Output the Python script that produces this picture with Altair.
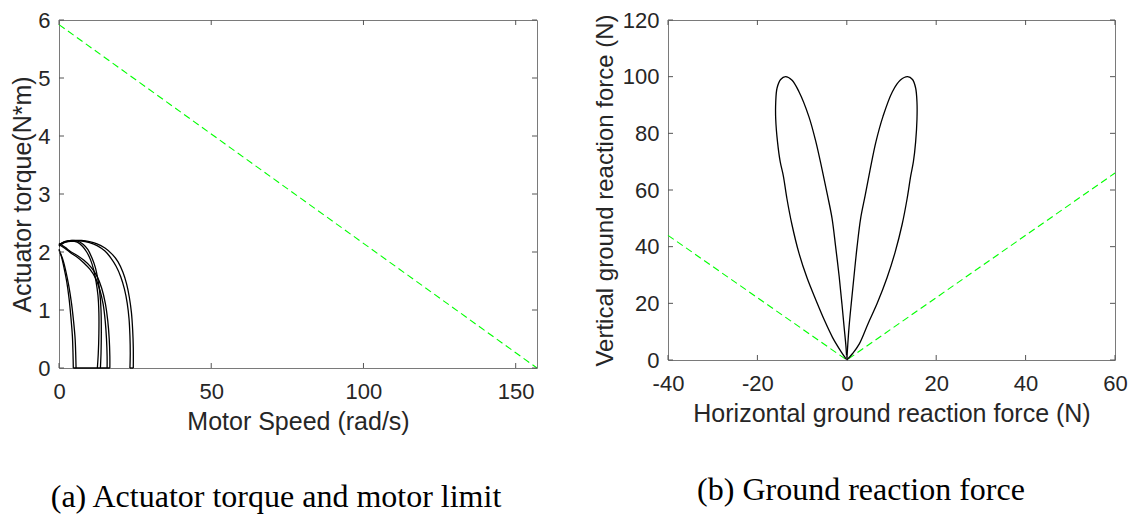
import altair as alt
import pandas as pd

# ---------------- Panel (a): actuator torque vs motor speed ----------------
limit_speed = [0, 157]
limit_torque = [5.92, 0]

a1_speed = [0, 1, 3, 5, 7.4, 10, 12.5, 15.1, 17.5, 19.4, 21, 22.2, 23.1, 23.8, 24.2, 24.4, 24.4]
a1_torque = [2.12, 2.16, 2.19, 2.2, 2.2, 2.18, 2.14, 2.07, 1.96, 1.83, 1.65, 1.45, 1.22, 0.95, 0.65, 0.35, 0]
a2_speed = [0, 1, 3, 5, 7.4, 10, 12.5, 15, 17, 18.8, 20.3, 21.5, 22.4, 23, 23.3, 23.4, 23.3]
a2_torque = [2.1, 2.15, 2.18, 2.19, 2.19, 2.16, 2.11, 2.02, 1.9, 1.75, 1.57, 1.36, 1.12, 0.85, 0.55, 0.25, 0]
b1_speed = [0, 2, 4, 6, 8, 9.5, 10.8, 11.9, 12.8, 13.4, 13.8, 13.9, 13.8, 13.6]
b1_torque = [2.12, 2.18, 2.2, 2.19, 2.13, 2.04, 1.9, 1.74, 1.52, 1.3, 1.0, 0.6, 0.25, 0]
b2_speed = [0, 2, 4, 6, 7.7, 9.1, 10.4, 11.4, 12.2, 12.8, 13.1, 13.1, 12.9, 12.6]
b2_torque = [2.1, 2.17, 2.19, 2.17, 2.1, 2.0, 1.86, 1.69, 1.48, 1.25, 0.95, 0.6, 0.25, 0]
c1_speed = [0, 2, 4, 6, 8.1, 10.5, 12.5, 14, 15.2, 16, 16.5, 16.7, 16.7]
c1_torque = [2.15, 2.08, 2.0, 1.94, 1.86, 1.74, 1.58, 1.38, 1.12, 0.82, 0.5, 0.2, 0]
c2_speed = [0, 2, 4, 6, 8, 10.2, 12, 13.4, 14.5, 15.2, 15.6, 15.8, 15.8]
c2_torque = [2.13, 2.06, 1.98, 1.91, 1.82, 1.7, 1.55, 1.35, 1.1, 0.8, 0.5, 0.2, 0]
d1_speed = [0, 0.8, 1.6, 2.5, 3.3, 3.9, 4.4, 4.6, 4.7]
d1_torque = [2.05, 1.92, 1.74, 1.5, 1.2, 0.88, 0.55, 0.25, 0]
d2_speed = [0, 1.2, 2.2, 3.2, 4.1, 4.8, 5.3, 5.5, 5.6]
d2_torque = [2.03, 1.88, 1.68, 1.42, 1.12, 0.8, 0.5, 0.22, 0]
base1_speed = [4.7, 16.7]
base1_torque = [0, 0]
base2_speed = [23.3, 24.4]
base2_torque = [0, 0]

speed_ticks = [0, 50, 100, 150]
torque_ticks = [0, 1, 2, 3, 4, 5, 6]

# ---------------- Panel (b): ground reaction force ----------------
cone_fx = [-40, 0, 60]
cone_fz = [44, 0, 66]

left_lobe_fx = [0, -0.2, -0.6, -1.1, -1.7, -2.5, -3.3, -4.3, -5.5, -6.9, -8.5, -10.7, -12.3, -13.7,
                -14.8, -15.6, -15.9, -15.9, -15.5, -14.9, -14.2, -13.4, -12.3, -10.7, -8.9, -6.9,
                -5.0, -3.2, -1.5, 0]
left_lobe_fz = [0, 5, 11.6, 20, 29.4, 40, 50, 58, 67, 76.9, 86, 94.7, 98.8, 100,
                99, 96, 91, 85, 77, 70, 65, 57, 48, 37.7, 29, 21.1, 14, 8, 3.5, 0]
right_lobe_fx = [0, 0.2, 0.5, 1.0, 1.6, 2.3, 3.1, 4.1, 5.2, 6.5, 8.1, 10.2, 12.0, 13.6,
                 14.7, 15.4, 15.7, 15.7, 15.4, 14.9, 14.3, 13.5, 12.4, 10.8, 9.0, 6.8,
                 4.8, 2.8, 1.3, 0]
right_lobe_fz = [0, 5, 11.6, 20, 29.4, 40, 50, 58, 67, 76.9, 86, 94.7, 98.8, 100,
                 99, 96, 91, 85, 77, 70, 65, 57, 48, 38, 29, 20, 13, 5.7, 2.3, 0]

fx_ticks = [-40, -20, 0, 20, 40, 60]
fz_ticks = [0, 20, 40, 60, 80, 100, 120]

caption_a = "(a) Actuator torque and motor limit"
caption_b = "(b) Ground reaction force"

# ---------------- build tables ----------------
def series_frame(pairs, xname, yname):
    rows = []
    for name, xs, ys in pairs:
        for i, (xv, yv) in enumerate(zip(xs, ys)):
            rows.append({"s": name, "i": i, xname: xv, yname: yv})
    return pd.DataFrame(rows)

torque_df = series_frame([
    ("a1", a1_speed, a1_torque), ("a2", a2_speed, a2_torque),
    ("b1", b1_speed, b1_torque), ("b2", b2_speed, b2_torque),
    ("c1", c1_speed, c1_torque), ("c2", c2_speed, c2_torque),
    ("d1", d1_speed, d1_torque), ("d2", d2_speed, d2_torque),
    ("e1", base1_speed, base1_torque), ("e2", base2_speed, base2_torque),
], "speed", "torque")
limit_df = pd.DataFrame({"speed": limit_speed, "torque": limit_torque})

grf_df = series_frame([
    ("L", left_lobe_fx, left_lobe_fz), ("R", right_lobe_fx, right_lobe_fz),
], "fx", "fz")
cone_df = pd.DataFrame({"fx": cone_fx, "fz": cone_fz})

TXT = "#262626"
AX = "#7a7a7a"
TICKC = "#555555"
SANS = "Liberation Sans"
SERIF = "Liberation Serif"
GREEN = "#00ff00"
TICK = 5
LBL = "'' + datum.value"


def tick_frames(xdom, ydom, xticks, yticks, W, H):
    """Inward (MATLAB-style) tick segments, expressed in data units."""
    dy = (ydom[1] - ydom[0]) * TICK / H
    dx = (xdom[1] - xdom[0]) * TICK / W
    xt = pd.DataFrame({
        "x": xticks * 2,
        "y1": [ydom[0]] * len(xticks) + [ydom[1]] * len(xticks),
        "y2": [ydom[0] + dy] * len(xticks) + [ydom[1] - dy] * len(xticks),
    })
    yt = pd.DataFrame({
        "y": yticks * 2,
        "x1": [xdom[0]] * len(yticks) + [xdom[1]] * len(yticks),
        "x2": [xdom[0] + dx] * len(yticks) + [xdom[1] - dx] * len(yticks),
    })
    return xt, yt


def make_panel(lines_df, dash_df, xf, yf, xdom, ydom, xticks, yticks,
               xtitle, ytitle, ytitle_size, ytitle_pad, W, H, caption, cap_x, cap_y):
    xs = alt.Scale(domain=xdom, nice=False, zero=False)
    ys = alt.Scale(domain=ydom, nice=False, zero=False)
    xaxis = alt.Axis(values=xticks, title=xtitle, ticks=False, domain=False, grid=False,
                     labelPadding=13, titlePadding=7, labelExpr=LBL, titleFontSize=25,
                     labelFlush=False)
    yaxis = alt.Axis(values=yticks, title=ytitle, ticks=False, domain=False, grid=False,
                     labelPadding=9, titlePadding=ytitle_pad, labelExpr=LBL,
                     titleFontSize=ytitle_size, labelFlush=False)
    curves = alt.Chart(lines_df).mark_line(
        color="black", strokeWidth=1.3, interpolate="catmull-rom"
    ).encode(
        x=alt.X(f"{xf}:Q", scale=xs, axis=xaxis),
        y=alt.Y(f"{yf}:Q", scale=ys, axis=yaxis),
        detail="s:N",
        order="i:Q",
    )
    dashed = alt.Chart(dash_df).mark_line(color=GREEN, strokeWidth=1.1, strokeDash=[7, 4]).encode(
        x=alt.X(f"{xf}:Q", scale=xs),
        y=alt.Y(f"{yf}:Q", scale=ys),
    )
    xt, yt = tick_frames(xdom, ydom, xticks, yticks, W, H)
    xtick_layer = alt.Chart(xt).mark_rule(color=TICKC, strokeWidth=1).encode(
        x=alt.X("x:Q", scale=xs), y=alt.Y("y1:Q", scale=ys), y2="y2:Q")
    ytick_layer = alt.Chart(yt).mark_rule(color=TICKC, strokeWidth=1).encode(
        y=alt.Y("y:Q", scale=ys), x=alt.X("x1:Q", scale=xs), x2="x2:Q")
    cap = alt.Chart(pd.DataFrame({"t": [caption]})).mark_text(
        font=SERIF, fontSize=32, color="black", align="center", baseline="middle"
    ).encode(text="t:N", x=alt.value(cap_x), y=alt.value(cap_y))
    return alt.layer(dashed, curves, xtick_layer, ytick_layer, cap).properties(width=W, height=H)


left = make_panel(torque_df, limit_df, "speed", "torque", [0, 157], [0, 6],
                  speed_ticks, torque_ticks, "Motor Speed (rad/s)", "Actuator torque(N*m)", 25, 2,
                  478, 348, caption_a, 217, 477)
right = make_panel(grf_df, cone_df, "fx", "fz", [-40, 60], [0, 120],
                   fx_ticks, fz_ticks, "Horizontal ground reaction force (N)",
                   "Vertical ground reaction force (N)", 24, 5,
                   447, 340, caption_b, 193, 470)

chart = alt.hconcat(left, right, spacing=52).properties(
    padding={"left": 2, "top": 0, "right": 0, "bottom": 0}
).configure_view(stroke=AX, strokeWidth=1).configure_axis(
    labelFont=SANS, labelFontSize=22, labelColor=TXT,
    titleFont=SANS, titleColor=TXT, titleFontWeight="normal",
)

chart.save("out.html", embed_options={"renderer": "svg", "actions": False})
